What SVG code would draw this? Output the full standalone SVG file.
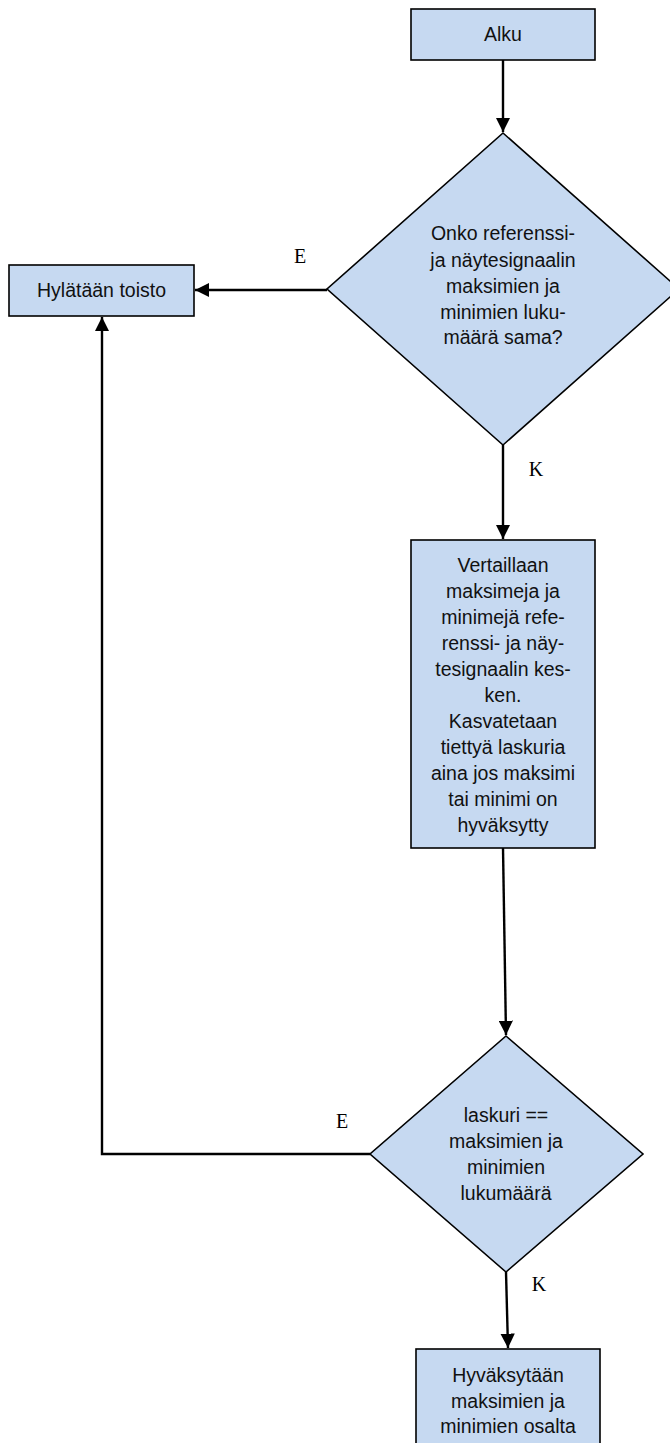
<svg xmlns="http://www.w3.org/2000/svg" width="670" height="1443" viewBox="0 0 670 1443">
  <style>
    .shape { fill: #c6d9f1; stroke: #000; stroke-width: 1.6; }
    .lbl { font-family: "Liberation Sans", Arial, sans-serif; font-size: 19.5px; fill: #111; text-anchor: middle; }
    .yn { font-family: "Liberation Serif", "Times New Roman", serif; font-size: 20px; fill: #000; text-anchor: middle; }
    .wire { fill: none; stroke: #000; stroke-width: 2.4; }
  </style>
  <defs>
    <marker id="arrow" viewBox="0 0 10 10" refX="10" refY="5" markerWidth="6" markerHeight="6" markerUnits="strokeWidth" orient="auto">
      <path d="M0,0 L10,5 L0,10 Z" fill="#000"/>
    </marker>
  </defs>

  <!-- connectors -->
  <g id="connectors">
    <line class="wire" x1="503" y1="60" x2="503" y2="132" marker-end="url(#arrow)"/>
    <line class="wire" x1="327" y1="290" x2="195" y2="290" marker-end="url(#arrow)"/>
    <text class="yn" x="300" y="263">E</text>
    <line class="wire" x1="503" y1="445" x2="503" y2="539" marker-end="url(#arrow)"/>
    <text class="yn" x="536" y="476">K</text>
    <line class="wire" x1="503" y1="848" x2="506" y2="1035" marker-end="url(#arrow)"/>
    <polyline class="wire" points="370,1154 102,1154 102,317" marker-end="url(#arrow)"/>
    <text class="yn" x="342" y="1128">E</text>
    <line class="wire" x1="506" y1="1272" x2="508" y2="1348" marker-end="url(#arrow)"/>
    <text class="yn" x="539" y="1291">K</text>
  </g>

  <!-- start -->
  <g id="alku">
    <rect class="shape" x="411" y="9" width="184" height="51"/>
    <text class="lbl" x="503" y="41">Alku</text>
  </g>

  <!-- first decision -->
  <g id="decision-count">
    <polygon class="shape" points="503,133 679,289 503,445 327,289"/>
    <text class="lbl" x="503" y="240">Onko referenssi-</text>
    <text class="lbl" x="503" y="267">ja näytesignaalin</text>
    <text class="lbl" x="503" y="293">maksimien ja</text>
    <text class="lbl" x="503" y="319">minimien luku-</text>
    <text class="lbl" x="503" y="344">määrä sama?</text>
  </g>

  <!-- rejection -->
  <g id="hylataan">
    <rect class="shape" x="9" y="265" width="185" height="51"/>
    <text class="lbl" x="101.5" y="297">Hylätään toisto</text>
  </g>

  <!-- comparison step -->
  <g id="vertailu">
    <rect class="shape" x="411" y="540" width="184" height="308"/>
    <text class="lbl" x="503" y="572">Vertaillaan</text>
    <text class="lbl" x="503" y="598">maksimeja ja</text>
    <text class="lbl" x="503" y="624">minimejä refe-</text>
    <text class="lbl" x="503" y="650">renssi- ja näy-</text>
    <text class="lbl" x="503" y="676">tesignaalin kes-</text>
    <text class="lbl" x="503" y="702">ken.</text>
    <text class="lbl" x="503" y="728">Kasvatetaan</text>
    <text class="lbl" x="503" y="754">tiettyä laskuria</text>
    <text class="lbl" x="503" y="780">aina jos maksimi</text>
    <text class="lbl" x="503" y="806">tai minimi on</text>
    <text class="lbl" x="503" y="832">hyväksytty</text>
  </g>

  <!-- second decision -->
  <g id="decision-laskuri">
    <polygon class="shape" points="506,1036 643,1154 506,1272 370,1154"/>
    <text class="lbl" x="506" y="1122">laskuri ==</text>
    <text class="lbl" x="506" y="1148">maksimien ja</text>
    <text class="lbl" x="506" y="1174">minimien</text>
    <text class="lbl" x="506" y="1200">lukumäärä</text>
  </g>

  <!-- acceptance -->
  <g id="hyvaksytaan">
    <rect class="shape" x="416" y="1349" width="184" height="110"/>
    <text class="lbl" x="508" y="1382">Hyväksytään</text>
    <text class="lbl" x="508" y="1408">maksimien ja</text>
    <text class="lbl" x="508" y="1433">minimien osalta</text>
  </g>
</svg>
